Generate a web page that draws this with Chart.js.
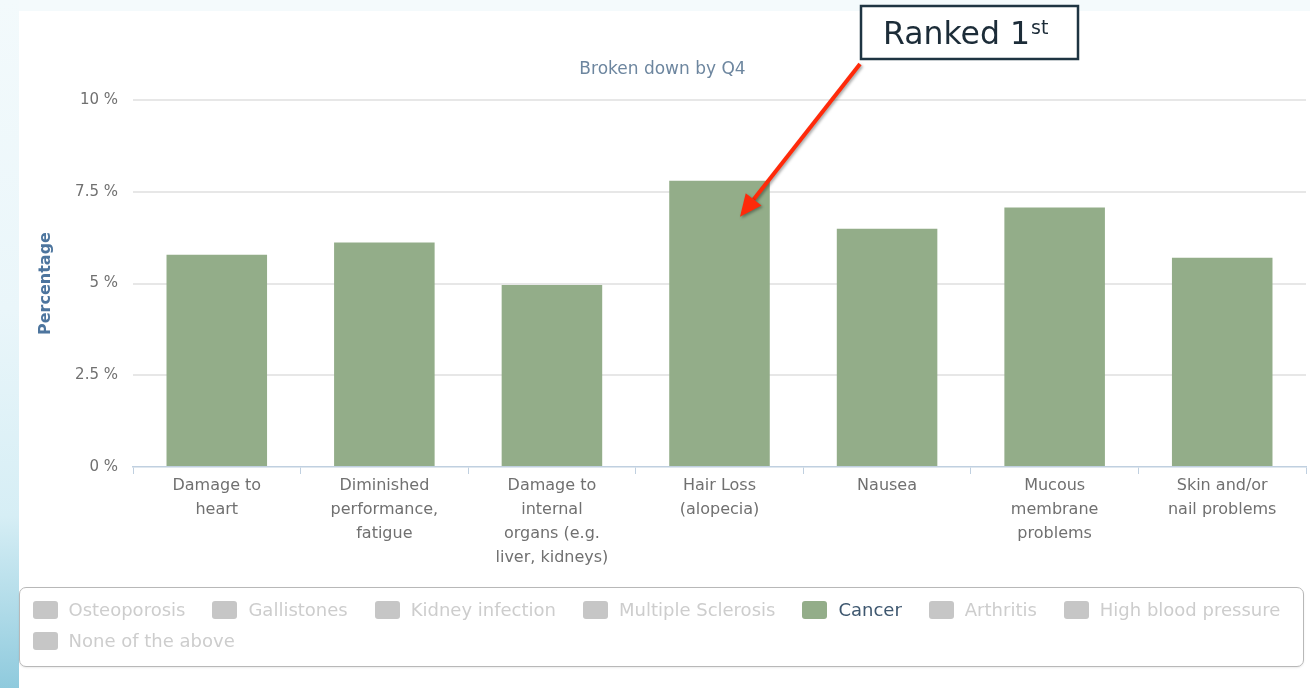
<!DOCTYPE html>
<html>
<head>
<meta charset="utf-8">
<script src="https://cdn.jsdelivr.net/npm/chart.js@4.4.0/dist/chart.umd.min.js"></script>
<style>
html,body{margin:0;padding:0;width:1310px;height:688px;overflow:hidden;background:#ffffff;font-family:"DejaVu Sans",sans-serif;}
#topstrip{position:absolute;left:0;top:0;width:1310px;height:11px;background:#f4fafc;}
#strip{position:absolute;left:0;top:0;width:19px;height:688px;background:linear-gradient(to bottom,#f3fafc 0%,#eaf6fa 45%,#d6eef5 75%,#a6d6e5 92%,#8fcadd 100%);}
#chartwrap{position:absolute;left:0;top:0;width:1310px;height:688px;}
#legend{position:absolute;left:19px;top:587px;width:1285px;height:80px;box-sizing:border-box;border:1.5px solid #b8b8b8;border-radius:7px;padding:6px 0 0 12.5px;display:flex;flex-wrap:wrap;align-content:flex-start;column-gap:27px;box-shadow:0 1px 2px rgba(0,0,0,0.08);background:#fff;}
.li{display:flex;align-items:center;height:31px;font-size:18px;white-space:nowrap;}
.lb{width:25px;height:18px;border-radius:3px;margin-right:11px;}
</style>
</head>
<body>
<div id="topstrip"></div>
<div id="strip"></div>
<div id="chartwrap"><canvas id="c" width="1310" height="688"></canvas></div>
<div id="legend"></div>
<script>
// ---- data ----
const categories = [
  ["Damage to", "heart"],
  ["Diminished", "performance,", "fatigue"],
  ["Damage to", "internal", "organs (e.g.", "liver, kidneys)"],
  ["Hair Loss", "(alopecia)"],
  ["Nausea"],
  ["Mucous", "membrane", "problems"],
  ["Skin and/or", "nail problems"]
];
const seriesNames = ["Osteoporosis", "Gallistones", "Kidney infection", "Multiple Sclerosis", "Cancer", "Arthritis", "High blood pressure", "None of the above"];
const seriesColors = ["#4572A7", "#AA4643", "#89A54E", "#80699B", "#93AD89", "#DB843D", "#92A8CD", "#A47D7C"];
const visibleSeries = ["Cancer"];
const cancerValues = [5.78, 6.12, 4.96, 7.80, 6.49, 7.07, 5.70];
const yTicks = [0, 2.5, 5, 7.5, 10];
const yTickLabels = ["0 %", "2.5 %", "5 %", "7.5 %", "10 %"];
const chartTitle = "Broken down by Q4";
const yTitle = "Percentage";
const annotationText = "Ranked 1";
const annotationSup = "st";

const FONT = '"DejaVu Sans", sans-serif';

const datasets = seriesNames.map((name, i) => ({
  label: name,
  data: name === "Cancer" ? cancerValues : [],
  backgroundColor: seriesColors[i],
  hidden: !visibleSeries.includes(name),
  barPercentage: 0.6,
  categoryPercentage: 1.0
}));

const annotationPlugin = {
  id: 'rankAnnotation',
  afterDraw(chart) {
    const ctx = chart.ctx;
    const idx = seriesNames.indexOf("Cancer");
    const meta = chart.getDatasetMeta(idx);
    const maxVal = Math.max(...cancerValues);
    const rankIdx = cancerValues.indexOf(maxVal);
    const bar = meta.data[rankIdx];
    ctx.save();
    // box
    const bx = 861, by = 6, bw = 217, bh = 53;
    ctx.fillStyle = '#ffffff';
    ctx.fillRect(bx, by, bw, bh);
    ctx.strokeStyle = '#1e3442';
    ctx.lineWidth = 2.5;
    ctx.strokeRect(bx, by, bw, bh);
    ctx.fillStyle = '#1c2c38';
    ctx.textBaseline = 'alphabetic';
    ctx.textAlign = 'left';
    ctx.font = '31.5px ' + FONT;
    ctx.fillText(annotationText, 883, 44);
    const w = ctx.measureText(annotationText).width;
    ctx.font = '19px ' + FONT;
    ctx.fillText(annotationSup, 883 + w + 1, 34);
    // arrow
    const sx = 860, sy = 64;
    const tx = bar.x + 20.5, ty = bar.y + 36;
    const ang = Math.atan2(ty - sy, tx - sx);
    const headLen = 22, headW = 10;
    const baseX = tx - headLen * Math.cos(ang), baseY = ty - headLen * Math.sin(ang);
    ctx.shadowColor = 'rgba(0,0,0,0.35)';
    ctx.shadowBlur = 3;
    ctx.shadowOffsetX = 1.5;
    ctx.shadowOffsetY = 1.5;
    ctx.strokeStyle = '#ff2a0a';
    ctx.fillStyle = '#ff2a0a';
    ctx.lineWidth = 4;
    ctx.beginPath();
    ctx.moveTo(sx, sy);
    ctx.lineTo(baseX, baseY);
    ctx.stroke();
    ctx.beginPath();
    ctx.moveTo(tx, ty);
    ctx.lineTo(baseX + headW * Math.sin(ang), baseY - headW * Math.cos(ang));
    ctx.lineTo(baseX - headW * Math.sin(ang), baseY + headW * Math.cos(ang));
    ctx.closePath();
    ctx.fill();
    ctx.restore();
  }
};

const chart = new Chart(document.getElementById('c'), {
  type: 'bar',
  data: { labels: categories, datasets: datasets },
  options: {
    responsive: false,
    animation: false,
    devicePixelRatio: 1,
    layout: { padding: { left: 19, right: 4, top: 0, bottom: 120 } },
    plugins: {
      legend: { display: false },
      tooltip: { enabled: false },
      title: {
        display: true,
        text: chartTitle,
        color: '#6D869F',
        font: { family: FONT, size: 17, weight: 'normal', lineHeight: 1.2 },
        padding: { top: 59, bottom: 20.6 }
      }
    },
    scales: {
      x: {
        grid: { drawOnChartArea: false, drawTicks: true, tickLength: 7, color: '#C0D0E0', lineWidth: 1, offset: true },
        border: { color: '#C0D0E0', width: 1.5 },
        ticks: { font: { family: FONT, size: 16, lineHeight: 1.5 }, color: '#707070', padding: 0, maxRotation: 0, minRotation: 0, autoSkip: false },
        afterFit(s) { s.height = 101; }
      },
      y: {
        min: 0, max: 10,
        afterBuildTicks(s) { s.ticks = yTicks.map(v => ({ value: v })); },
        ticks: {
          callback: (v, i) => yTickLabels[i],
          font: { family: FONT, size: 15 },
          color: '#707070',
          padding: 15
        },
        grid: {
          drawTicks: false,
          lineWidth: 2,
          color: c => (c.tick && c.tick.value === 0) ? 'rgba(0,0,0,0)' : '#e7e7e7'
        },
        border: { display: false },
        title: {
          display: true,
          text: yTitle,
          color: '#4D759E',
          font: { family: FONT, size: 16, weight: 'bold', lineHeight: 1.2 },
          padding: { top: 17.4, bottom: 0 }
        },
        afterFit(s) { s.width = 114; }
      }
    }
  },
  plugins: [annotationPlugin]
});

// HTML legend built from chart datasets
const legendEl = document.getElementById('legend');
chart.data.datasets.forEach((ds) => {
  const item = document.createElement('div');
  item.className = 'li';
  const box = document.createElement('span');
  box.className = 'lb';
  box.style.background = ds.hidden ? '#c6c6c6' : ds.backgroundColor;
  const txt = document.createElement('span');
  txt.textContent = ds.label;
  txt.style.color = ds.hidden ? '#cdcdcd' : '#3E576F';
  item.appendChild(box);
  item.appendChild(txt);
  legendEl.appendChild(item);
});
</script>
</body>
</html>
